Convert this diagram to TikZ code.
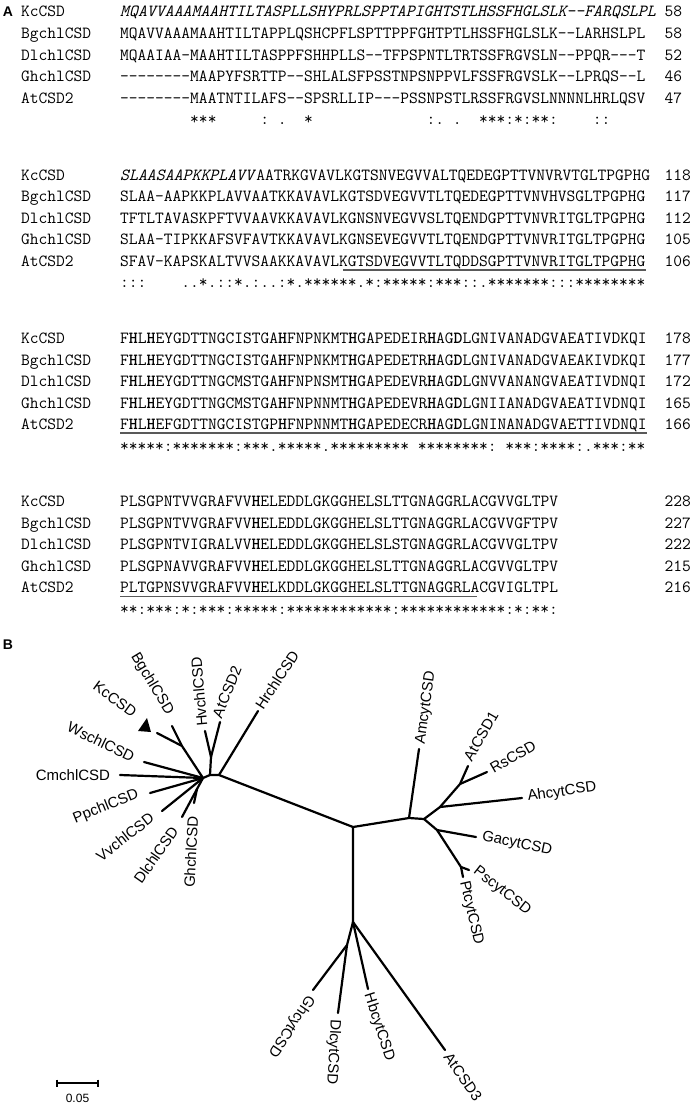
\documentclass[tikz,border=0pt]{standalone}
\usepackage{fontspec}
\setmainfont{Liberation Sans}
\newcommand\bH{\textbf{H}}
\newcommand\bD{\textbf{D}}
\newcommand\alrow[5]{%
  \node[seqtext] (#1n) at (21,#2) {#3};
  \node[seqtext] (#1s) at (120,#2) {#4};
  \node[seqtext] (#1c) at (664.4,#2) {#5};}
\begin{document}
\begin{tikzpicture}[x=1pt,y=-1pt,
  seqtext/.style={anchor=base west,inner sep=0pt,font={\fontsize{17}{17}\selectfont\ttfamily}},
  branch/.style={line width=2.2pt,line cap=round,line join=round},
  leaf/.style={inner sep=0pt,font={\fontsize{15}{15}\selectfont}},
  uline/.style={line width=1.6pt,color=black!65},
  panel/.style={inner sep=0pt,font={\fontsize{14}{14}\selectfont\bfseries}}]
\useasboundingbox (0,0) rectangle (698,1116);
\fill[white] (0,0) rectangle (698,1116);

\node[panel] (pA) at (8,12) {A};
\node[panel] (pB) at (8,645) {B};

% ---------- block 1
\alrow{k1}{17}{KcCSD}{\textit{MQAVVAAAMAAHTILTASPLLSHYPRLSPPTAPIGHTSTLHSSFHGLSLK––FARQSLPL}}{58}
\alrow{b1}{38.5}{BgchlCSD}{MQAVVAAAMAAHTILTAPPLQSHCPFLSPTTPPFGHTPTLHSSFHGLSLK––LARHSLPL}{58}
\alrow{d1}{60}{DlchlCSD}{MQAAIAA–MAAHTILTASPPFSHHPLLS––TFPSPNTLTRTSSFRGVSLN––PPQR–––T}{52}
\alrow{g1}{81.5}{GhchlCSD}{––––––––MAAPYFSRTTP––SHLALSFPSSTNPSNPPVLFSSFRGVSLK––LPRQS––L}{46}
\alrow{a1}{103}{AtCSD2}{––––––––MAATNTILAFS––SPSRLLIP–––PSSNPSTLRSSFRGVSLNNNNLHRLQSV}{47}
\node[seqtext] (c1) at (120,124.5) {~~~~~~~~***~~~~~:~.~~*~~~~~~~~~~~~~:.~.~~***:*:**:~~~~::};

% ---------- block 2
\alrow{k2}{180.3}{KcCSD}{\textit{SLAASAAPKKPLAVV}AATRKGVAVLKGTSNVEGVVALTQEDEGPTTVNVRVTGLTPGPHG}{118}
\alrow{b2}{201.8}{BgchlCSD}{SLAA–AAPKKPLAVVAATKKAVAVLKGTSDVEGVVTLTQEDEGPTTVNVHVSGLTPGPHG}{117}
\alrow{d2}{223.3}{DlchlCSD}{TFTLTAVASKPFTVVAAVKKAVAVLKGNSNVEGVVSLTQENDGPTTVNVRITGLTPGPHG}{112}
\alrow{g2}{244.8}{GhchlCSD}{SLAA–TIPKKAFSVFAVTKKAVAVLKGNSEVEGVVTLTQENDGPTTVNVRITGLTPGPHG}{105}
\alrow{a2}{266.3}{AtCSD2}{SFAV–KAPSKALTVVSAAKKAVAVLKGTSDVEGVVTLTQDDSGPTTVNVRITGLTPGPHG}{106}
\node[seqtext] (c2) at (120,287.8) {:::~~~~..*.::*.:..:*.******.*:*****:***::.*******:::********};
\draw[uline] ([shift={(25*8.925,3.5)}]a2s.base west) -- ([shift={(0,3.5)}]a2s.base east);

% ---------- block 3
\alrow{k3}{343.6}{KcCSD}{F\bH L\bH EYGDTTNGCISTGA\bH FNPNKMT\bH GAPEDEIR\bH AG\bD LGNIVANADGVAEATIVDKQI}{178}
\alrow{b3}{365.1}{BgchlCSD}{F\bH L\bH EYGDTTNGCISTGA\bH FNPNKMT\bH GAPEDETR\bH AG\bD LGNIVANADGVAEAKIVDKQI}{177}
\alrow{d3}{386.6}{DlchlCSD}{F\bH L\bH EYGDTTNGCMSTGA\bH FNPNSMT\bH GAPEDEVR\bH AG\bD LGNVVANANGVAEATIVDNQI}{172}
\alrow{g3}{408.1}{GhchlCSD}{F\bH L\bH EYGDTTNGCMSTGA\bH FNPNNMT\bH GAPEDEVR\bH AG\bD LGNIIANADGVAEATIVDNQI}{165}
\alrow{a3}{429.6}{AtCSD2}{F\bH L\bH EFGDTTNGCISTGP\bH FNPNNMT\bH GAPEDECR\bH AG\bD LGNINANADGVAETTIVDNQI}{166}
\node[seqtext] (c3) at (120,451.1) {*****:*******:***.*****.*********~********:~***:****:.***:**};
\draw[uline] ([shift={(0,3.5)}]a3s.base west) -- ([shift={(0,3.5)}]a3s.base east);

% ---------- block 4
\alrow{k4}{506.9}{KcCSD}{PLSGPNTVVGRAFVV\bH ELEDDLGKGGHELSLTTGNAGGRLACGVVGLTPV}{228}
\alrow{b4}{528.4}{BgchlCSD}{PLSGPNTVVGRAFVV\bH ELEDDLGKGGHELSLTTGNAGGRLACGVVGFTPV}{227}
\alrow{d4}{549.9}{DlchlCSD}{PLSGPNTVIGRALVV\bH ELEDDLGKGGHELSLSTGNAGGRLACGVVGLTPV}{222}
\alrow{g4}{571.4}{GhchlCSD}{PLSGPNAVVGRAFVV\bH ELEDDLGKGGHELSLTTGNAGGRLACGVVGLTPV}{215}
\alrow{a4}{592.9}{AtCSD2}{PLTGPNSVVGRAFVV\bH ELKDDLGKGGHELSLTTGNAGGRLACGVIGLTPL}{216}
\node[seqtext] (c4) at (120,614.4) {**:***:*:***:*****:************:************:*:**:};
\draw[uline] ([shift={(0,3.5)}]a4s.base west) -- ([shift={(40*8.925,3.5)}]a4s.base west);

% ---------- tree: chloroplast cluster
\coordinate (H) at (203,778);
\coordinate (P) at (210,775);
\coordinate (C1) at (219,775);
\coordinate (HvA) at (211,757);
\coordinate (tHv) at (205,731);
\coordinate (tAt2) at (220,722);
\coordinate (tHr) at (258,711);
\coordinate (KB) at (182,746);
\coordinate (tKc) at (157,733);
\coordinate (tBg) at (172,726);
\coordinate (tWs) at (144,762);
\coordinate (tCm) at (120,775);
\coordinate (tPp) at (150,793);
\coordinate (tVv) at (162,811);
\coordinate (GD) at (197,789);
\coordinate (tGh) at (194,803);
\coordinate (tDl) at (182,817);
% cytosolic
\coordinate (M1) at (353,827);
\coordinate (M2) at (353,922);
\coordinate (Q1) at (409,818);
\coordinate (tAm) at (419,749);
\coordinate (Q2) at (424,819);
\coordinate (Q3) at (440,807);
\coordinate (tAh) at (522,798);
\coordinate (Q4) at (460,784);
\coordinate (tAt1) at (468,766);
\coordinate (tRs) at (487,772);
\coordinate (Q5) at (437,830);
\coordinate (tGa) at (476,837);
\coordinate (Q6) at (461,867);
\coordinate (tPs) at (469,870);
\coordinate (tPt) at (463,877);
\coordinate (tAt3) at (445,1050);
\coordinate (tHb) at (368,989);
\coordinate (M3) at (347,945);
\coordinate (tGhc) at (313,990);
\coordinate (tDlc) at (338,1013);

\draw[branch] (H) -- (KB) -- (tKc);
\draw[branch] (KB) -- (tBg);
\draw[branch] (H) -- (tWs);
\draw[branch] (H) -- (tCm);
\draw[branch] (H) -- (tPp);
\draw[branch] (H) -- (tVv);
\draw[branch] (H) -- (GD) -- (tGh);
\draw[branch] (GD) -- (tDl);
\draw[branch] (H) -- (P) -- (C1) -- (M1) -- (Q1) -- (Q2) -- (Q3) -- (Q4) -- (tAt1);
\draw[branch] (P) -- (HvA) -- (tHv);
\draw[branch] (HvA) -- (tAt2);
\draw[branch] (C1) -- (tHr);
\draw[branch] (Q1) -- (tAm);
\draw[branch] (Q3) -- (tAh);
\draw[branch] (Q4) -- (tRs);
\draw[branch] (Q2) -- (Q5) -- (Q6) -- (tPt);
\draw[branch] (Q5) -- (tGa);
\draw[branch] (Q6) -- (tPs);
\draw[branch] (M1) -- (M2) -- (tAt3);
\draw[branch] (M2) -- (tHb);
\draw[branch] (M2) -- (M3) -- (tGhc);
\draw[branch] (M3) -- (tDlc);

\fill (138,731) -- (151,732) -- (147,718) -- cycle;

\node[leaf,rotate=-36] (lKc) at (115,699) {KcCSD};
\node[leaf,rotate=-59] (lBg) at (152,684) {BgchlCSD};
\node[leaf,rotate=95] (lHv) at (199,692) {HvchlCSD};
\node[leaf,rotate=68] (lAt2) at (227,692) {AtCSD2};
\node[leaf,rotate=57] (lHr) at (277,680) {HrchlCSD};
\node[leaf,rotate=-26] (lWs) at (101,742) {WschlCSD};
\node[leaf] (lCm) at (73,775) {CmchlCSD};
\node[leaf,rotate=22] (lPp) at (106,807) {PpchlCSD};
\node[leaf,rotate=38] (lVv) at (125,837) {VvchlCSD};
\node[leaf,rotate=55] (lDl) at (156,855) {DlchlCSD};
\node[leaf,rotate=87] (lGh) at (191,852) {GhchlCSD};
\node[leaf,rotate=82] (lAm) at (426,708) {AmcytCSD};
\node[leaf,rotate=60] (lAt1) at (481,736) {AtCSD1};
\node[leaf,rotate=30] (lRs) at (513,757) {RsCSD};
\node[leaf,rotate=8] (lAh) at (562,792) {AhcytCSD};
\node[leaf,rotate=-12] (lGa) at (517,844) {GacytCSD};
\node[leaf,rotate=-38] (lPs) at (502,891) {PscytCSD};
\node[leaf,rotate=-77] (lPt) at (471,913) {PtcytCSD};
\node[leaf,rotate=-55] (lAt3) at (463,1077) {AtCSD3};
\node[leaf,rotate=-72] (lHb) at (379,1027) {HbcytCSD};
\node[leaf,rotate=-93] (lDlc) at (333,1052) {DlcytCSD};
\node[leaf,rotate=-124] (lGhc) at (291,1026) {GhcytCSD};

% scale bar
\coordinate (sb1) at (57,1083);
\coordinate (sb2) at (98,1083);
\draw[line width=2pt] (sb1) -- (sb2);
\draw[line width=1.6pt] ([yshift=3.5pt]sb1) -- ([yshift=-3.5pt]sb1);
\draw[line width=1.6pt] ([yshift=3.5pt]sb2) -- ([yshift=-3.5pt]sb2);
\node[inner sep=0pt,font={\fontsize{12}{12}\selectfont}] (sbl) at (77.5,1098) {0.05};
\end{tikzpicture}
\end{document}
